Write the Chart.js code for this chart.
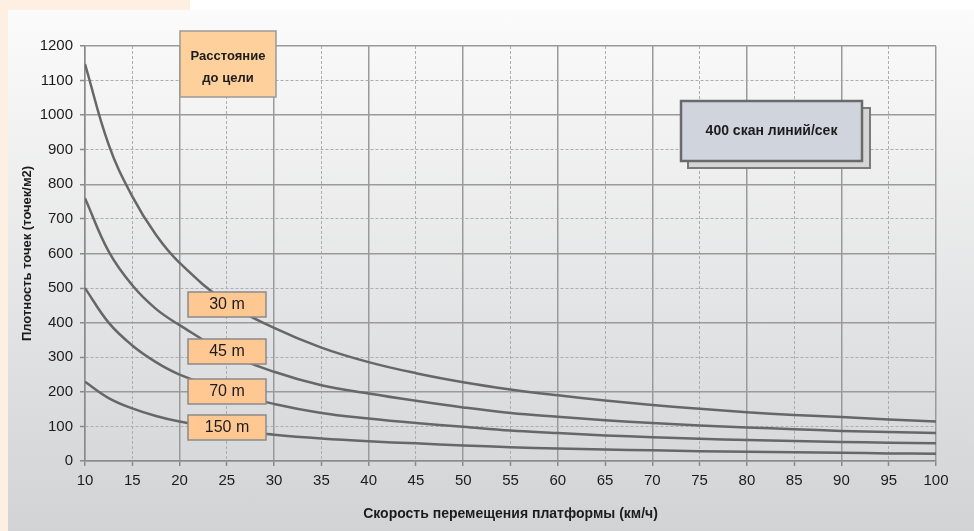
<!DOCTYPE html>
<html>
<head>
<meta charset="utf-8">
<script src="https://cdn.jsdelivr.net/npm/chart.js@4"></script>
<style>
html, body { margin: 0; padding: 0; background: #fff; }
#peach { position: absolute; left: 0; top: 0; width: 190px; height: 531px; background: #fdf0e2; }
#panel { position: absolute; left: 8px; top: 10px; width: 966px; height: 521px; background: linear-gradient(#fbfbfb, #d2d3d5); }
#wrap { position: absolute; left: 0; top: 0; width: 974px; height: 531px; }
</style>
</head>
<body>
<div id="peach"></div>
<div id="panel"></div>
<div id="wrap"><canvas id="myChart" width="974" height="531"></canvas></div>
<script>
// Daten (Punkte pro m2 bei Geschwindigkeit km/h)
const speeds  = [10, 12.5, 15, 17.5, 20, 25, 30, 35, 40, 45, 50, 55, 60, 65, 70, 75, 80, 85, 90, 95, 100];
const dist30  = [1148, 915, 765, 654, 573, 458, 385, 328, 286, 254, 228, 207, 190, 175, 162, 151, 141, 133, 127, 120, 114];
const dist45  = [760, 606, 508, 440, 393, 312, 258, 219, 195, 174, 155, 139, 128, 118, 110, 103, 97, 92, 87, 84, 81];
const dist70  = [500, 400, 334, 286, 250, 200, 165, 139, 123, 110, 99, 88, 81, 74, 69, 64, 61, 58, 55, 53, 51];
const dist150 = [229, 182, 152, 130, 114, 91, 76, 65, 57, 51, 45, 40, 36, 33, 31, 28, 27, 25, 24, 22, 21];
const seriesNames = ['30 m', '45 m', '70 m', '150 m'];

const xTitle = 'Скорость перемещения платформы (км/ч)';
const yTitle = 'Плотность точек (точек/м2)';
const legendTitle = ['Расстояние', 'до цели'];
const scanLabel = '400 скан линий/сек';

const LINE_COLOR = '#676767';
const FONT = '"Liberation Sans", Arial, sans-serif';

function makeSet(name, values) {
    return {
        label: name,
        data: speeds.map((s, i) => ({ x: s, y: values[i] })),
        borderColor: LINE_COLOR,
        borderWidth: 2.5,
        pointRadius: 0,
        tension: 0.4,
        fill: false
    };
}

function box(ctx, x, y, w, h, fill, stroke, lw) {
    ctx.fillStyle = fill;
    ctx.fillRect(x, y, w, h);
    ctx.lineWidth = lw;
    ctx.strokeStyle = stroke;
    ctx.strokeRect(x, y, w, h);
}

// Kästchen mit Beschriftungen über dem Diagramm
const boxesPlugin = {
    id: 'boxes',
    afterDatasetsDraw(chart) {
        const ctx = chart.ctx;
        ctx.save();
        ctx.textAlign = 'center';
        ctx.textBaseline = 'middle';

        // Legendentitel
        box(ctx, 180, 31, 96, 66, '#fdd09c', '#9a9a9a', 1.5);
        ctx.fillStyle = '#1c1c1c';
        ctx.font = 'bold 13px ' + FONT;
        ctx.fillText(legendTitle[0], 228, 56);
        ctx.fillText(legendTitle[1], 228, 78);

        // 400 scan box mit Schatten
        box(ctx, 688, 108, 182, 60, '#d5d5d5', '#7a7a7a', 2);
        box(ctx, 681, 101, 181, 60, '#cfd4dd', '#6a6a6a', 2.5);
        ctx.fillStyle = '#1c1c1c';
        ctx.font = 'bold 14px ' + FONT;
        ctx.fillText(scanLabel, 771.5, 131);

        // Serienbeschriftungen
        const ys = [292, 339, 379, 415];
        ctx.font = '16px ' + FONT;
        seriesNames.forEach((n, i) => {
            box(ctx, 188, ys[i], 78, 25, '#ffc893', '#8a8a8a', 1.5);
            ctx.fillStyle = '#1c1c1c';
            ctx.fillText(n, 227, ys[i] + 13);
        });
        ctx.restore();
    }
};

// Haupt- oder Nebenlinie?
const isMajor = (c, step) => !c.tick || c.tick.value % step === 0;

const ChartElement = document.getElementById('myChart');

const chart = new Chart(ChartElement, {
    type: 'line',
    data: {
        datasets: [
            makeSet(seriesNames[0], dist30),
            makeSet(seriesNames[1], dist45),
            makeSet(seriesNames[2], dist70),
            makeSet(seriesNames[3], dist150)
        ]
    },
    options: {
        responsive: false,
        animation: false,
        layout: { padding: { top: 46, right: 38, left: 0, bottom: 0 } },
        plugins: { legend: { display: false }, tooltip: { enabled: false } },
        scales: {
            x: {
                type: 'linear',
                min: 10,
                max: 100,
                afterFit: (scale) => { scale.height = 70; },
                ticks: { stepSize: 5, color: '#1c1c1c', padding: 6, maxRotation: 0, font: { family: FONT, size: 15 },
                         callback: (v) => String(v) },
                grid: {
                    color: (c) => isMajor(c, 10) ? '#9a9a9a' : '#adadad',
                    lineWidth: (c) => isMajor(c, 10) ? 1.5 : 1,
                    tickLength: 5,
                    tickColor: '#8a8a8a',
                    tickBorderDash: [],
                    tickWidth: 1.5
                },
                border: { color: '#8a8a8a', width: 1.5, dash: (c) => isMajor(c, 10) ? [] : [3, 2] },
                title: {
                    display: true,
                    text: xTitle,
                    color: '#1c1c1c',
                    font: { family: FONT, size: 14, weight: 'bold' },
                    padding: { top: 0, bottom: 8 }
                }
            },
            y: {
                min: 0,
                max: 1200,
                afterFit: (scale) => { scale.width = 85; },
                ticks: { stepSize: 100, color: '#1c1c1c', padding: 7, font: { family: FONT, size: 15 },
                         callback: (v) => String(v) },
                grid: {
                    color: (c) => isMajor(c, 200) ? '#9a9a9a' : '#adadad',
                    lineWidth: (c) => isMajor(c, 200) ? 1.5 : 1,
                    tickLength: 5,
                    tickColor: '#8a8a8a',
                    tickBorderDash: [],
                    tickWidth: 1.5
                },
                border: { color: '#8a8a8a', width: 1.5, dash: (c) => isMajor(c, 200) ? [] : [3, 2] },
                title: {
                    display: true,
                    text: yTitle,
                    color: '#1c1c1c',
                    font: { family: FONT, size: 13, weight: 'bold' },
                    padding: { top: 20, bottom: 0 }
                }
            }
        }
    },
    plugins: [boxesPlugin]
});
</script>
</body>
</html>
